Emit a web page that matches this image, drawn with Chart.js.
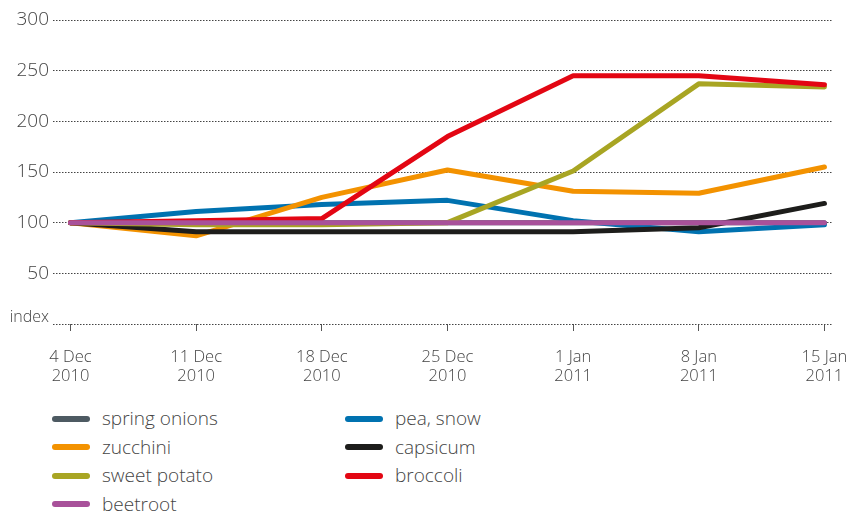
<!DOCTYPE html>
<html>
<head>
<meta charset="utf-8">
<script src="https://cdn.jsdelivr.net/npm/chart.js@4.4.1/dist/chart.umd.min.js"></script>
<style>
  body { margin: 0; background: #fff; font-family: "Open Sans", sans-serif; }
  #wrap { position: relative; width: 854px; height: 511px; }
  #box { position: absolute; left: 0; top: 0; width: 854px; height: 395px; }
  .leg { position: absolute; height: 28px; line-height: 28px; font-size: 19px; font-weight: 300; color: #444; white-space: nowrap; }
  .leg span.sw { display: inline-block; width: 38px; height: 6px; border-radius: 3px; vertical-align: middle; margin-right: 12px; position: relative; top: -1px; }
</style>
</head>
<body>
<div id="wrap">
  <div id="box"><canvas id="grafico"></canvas></div>
  <div id="leyenda"></div>
</div>
<script>
// semanas (etiquetas del eje x)
var semanas = [['4 Dec', '2010'], ['11 Dec', '2010'], ['18 Dec', '2010'], ['25 Dec', '2010'], ['1 Jan', '2011'], ['8 Jan', '2011'], ['15 Jan', '2011']];
var marcasY = [0, 50, 100, 150, 200, 250, 300];

// indices por producto
var springOnions = [100, 100, 100, 100, 100, 100, 100];
var zucchini = [100, 87, 125, 152, 131, 129, 155];
var sweetPotato = [100, 98, 98, 100, 151, 237, 234];
var beetroot = [100, 100, 100, 100, 100, 100, 100];
var peaSnow = [100, 111, 118, 122, 102, 91, 98];
var capsicum = [100, 91, 91, 91, 91, 95, 119];
var broccoli = [100, 102, 104, 185, 245, 245, 236];

var series = [
    { nombre: 'spring onions', valores: springOnions, color: '#4d5a62', orden: 6 },
    { nombre: 'zucchini', valores: zucchini, color: '#f39200', orden: 4 },
    { nombre: 'sweet potato', valores: sweetPotato, color: '#a8a523', orden: 2 },
    { nombre: 'beetroot', valores: beetroot, color: '#a8519a', orden: 0 },
    { nombre: 'pea, snow', valores: peaSnow, color: '#0072b0', orden: 5 },
    { nombre: 'capsicum', valores: capsicum, color: '#1d1d1b', orden: 3 },
    { nombre: 'broccoli', valores: broccoli, color: '#e30613', orden: 1 }
];

var fuente = '"Open Sans", sans-serif';

var datasets = series.map(function (s) {
    return {
        label: s.nombre,
        data: s.valores.map(function (v, i) { return { x: i, y: v }; }),
        borderColor: s.color,
        backgroundColor: s.color,
        borderWidth: 5,
        borderCapStyle: 'round',
        borderJoinStyle: 'round',
        pointRadius: 0,
        fill: false,
        tension: 0,
        order: s.orden
    };
});

var ctx = document.getElementById('grafico').getContext('2d');
var myChart = new Chart(ctx, {
    type: 'line',
    data: { datasets: datasets },
    options: {
        responsive: true,
        maintainAspectRatio: false,
        animation: false,
        layout: { padding: { top: 20, right: 21, left: 0, bottom: 0 } },
        plugins: { legend: { display: false }, tooltip: { enabled: false } },
        scales: {
            x: {
                type: 'linear',
                min: -0.139,
                max: 6.068,
                afterBuildTicks: function (scale) {
                    scale.ticks = semanas.map(function (s, i) { return { value: i }; });
                },
                afterFit: function (scale) {
                    scale.height = 71;
                    scale.paddingLeft = 0;
                    scale.paddingRight = 0;
                },
                grid: { drawOnChartArea: false, drawTicks: true, tickLength: 7, tickColor: '#555', tickWidth: 1 },
                border: { display: false },
                ticks: {
                    autoSkip: false,
                    maxRotation: 0,
                    padding: 17,
                    color: '#444',
                    font: { family: fuente, size: 16.5, weight: 300, lineHeight: 1.16 },
                    callback: function (v) { return semanas[v]; }
                }
            },
            y: {
                min: 0,
                max: 300,
                afterBuildTicks: function (scale) {
                    scale.ticks = marcasY.map(function (v) { return { value: v }; });
                },
                afterFit: function (scale) { scale.width = 53; },
                grid: { drawTicks: false, color: '#444', lineWidth: 1 },
                border: { display: false, dash: [1.5, 1.5] },
                ticks: {
                    padding: 4,
                    color: '#444',
                    font: function (c) {
                        if (c.tick && c.tick.value === 0) {
                            return { family: fuente, size: 16, weight: 300, lineHeight: 0.8 };
                        }
                        return { family: fuente, size: 19, weight: 300 };
                    },
                    // "index" va un poco por encima de la linea base
                    callback: function (v) { return v === 0 ? ['index', ''] : v; }
                }
            }
        }
    }
});

// leyenda en dos columnas
var leyenda = document.getElementById('leyenda');
series.forEach(function (s, i) {
    var col = i < 4 ? 0 : 1;
    var fila = i < 4 ? i : i - 4;
    var d = document.createElement('div');
    d.className = 'leg';
    d.style.left = (col === 0 ? 52 : 345) + 'px';
    d.style.top = (404 + fila * 28.5) + 'px';
    d.innerHTML = '<span class="sw" style="background:' + s.color + '"></span>' + s.nombre;
    leyenda.appendChild(d);
});
</script>
</body>
</html>
